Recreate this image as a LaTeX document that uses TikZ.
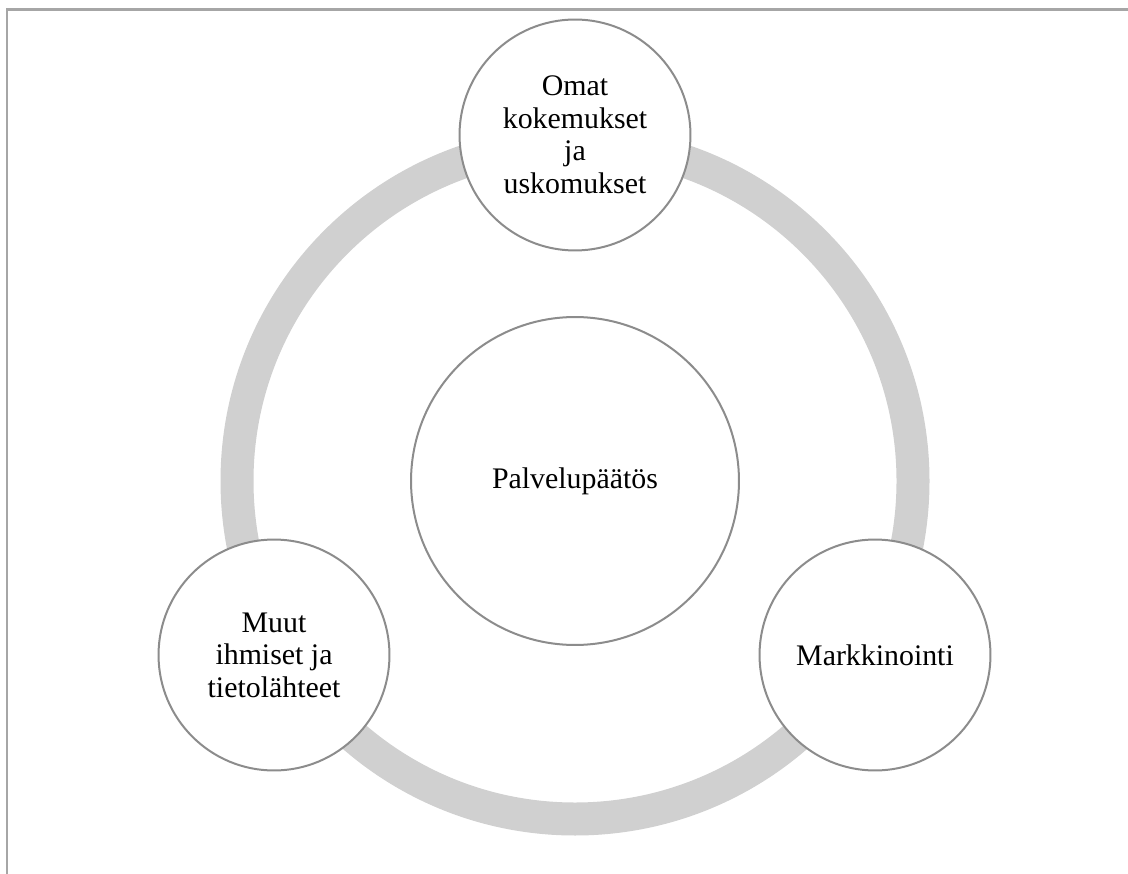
\documentclass[tikz,border=0pt]{standalone}
\usepackage{fontspec}
\setmainfont{Liberation Serif}

\definecolor{framegray}{HTML}{A6A6A6}
\definecolor{ringgray}{HTML}{D0D0D0}
\definecolor{edgegray}{HTML}{8C8C8C}

\tikzset{
    bubble/.style={circle, draw=edgegray, line width=0.04cm, fill=white,
        align=center, font=\fontsize{17}{18.5}\selectfont, inner sep=0pt}
}

\begin{document}
\begin{tikzpicture}[x=0.02cm, y=-0.02cm]
    % Canvas size (pixels of the original)
    \useasboundingbox (0,0) rectangle (1128,874);

    % Frame: only the top and left edges show
    \draw[framegray, line width=0.06cm] (1128,10) -- (7,10) -- (7,874);

    % Ring centre and radius
    \def\r{338}
    \coordinate (O) at (575,481);

    % Grey ring behind the circles
    \draw[ringgray, line width=0.66cm] (O) circle (\r);

    % Centre circle
    \node[bubble, minimum size=6.56cm] (paatos) at (O) {Palvelupäätös};

    % Circles on the ring
    \node[bubble, minimum size=4.62cm] (omat) at (575,135)
        {Omat\\kokemukset\\ja\\uskomukset};
    \node[bubble, minimum size=4.62cm] (muut) at (274,655)
        {Muut\\ihmiset ja\\tietolähteet};
    \node[bubble, minimum size=4.62cm] (markkinointi) at (875,655)
        {Markkinointi};
\end{tikzpicture}
\end{document}
